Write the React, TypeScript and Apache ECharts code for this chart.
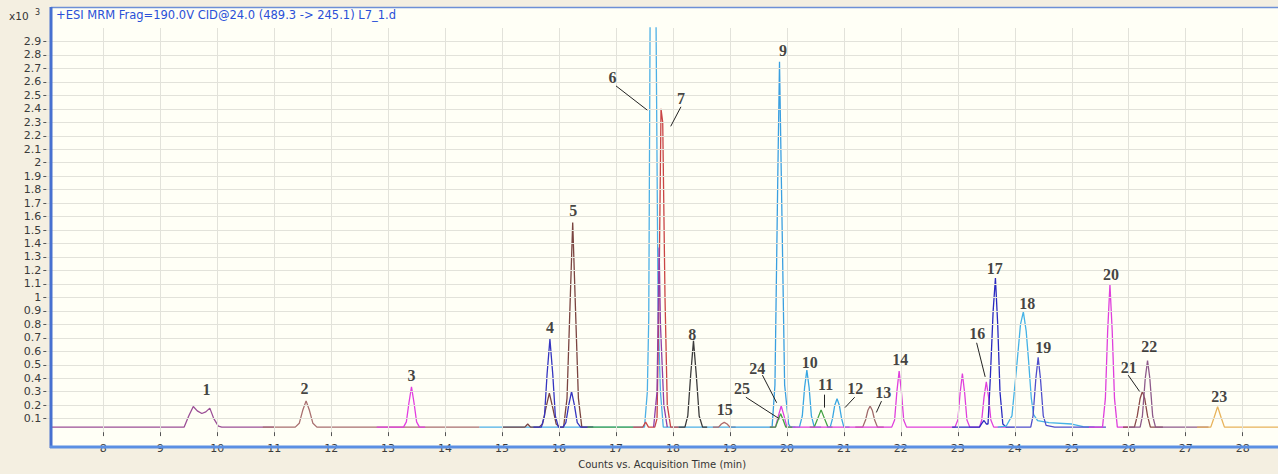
import React, { useEffect, useRef } from "react";
import * as echarts from "echarts";

// ---- axis ticks ----
const xTicks = [8, 9, 10, 11, 12, 13, 14, 15, 16, 17, 18, 19, 20, 21, 22, 23, 24, 25, 26, 27, 28];
const yTicks = [0.1, 0.2, 0.3, 0.4, 0.5, 0.6, 0.7, 0.8, 0.9, 1, 1.1, 1.2, 1.3, 1.4, 1.5, 1.6, 1.7, 1.8, 1.9, 2, 2.1, 2.2, 2.3, 2.4, 2.5, 2.6, 2.7, 2.8, 2.9];

const headerText = "+ESI MRM Frag=190.0V CID@24.0 (489.3 -> 245.1) L7_1.d";
const xTitle = "Counts vs. Acquisition Time (min)";

// ---- traces: [time (min), counts x10^3] ----
const trace1 = [[7.1, 0.037], [9.42, 0.037], [9.5, 0.12], [9.58, 0.19], [9.65, 0.158], [9.73, 0.138], [9.8, 0.15], [9.87, 0.178], [9.94, 0.1], [10.02, 0.045], [10.08, 0.037], [11.0, 0.037]];
const trace2 = [[10.8, 0.037], [11.37, 0.037], [11.44, 0.065], [11.5, 0.16], [11.56, 0.232], [11.62, 0.16], [11.68, 0.065], [11.75, 0.037], [14.6, 0.037]];
const trace3 = [[12.8, 0.037], [13.27, 0.037], [13.32, 0.076], [13.365, 0.216], [13.41, 0.335], [13.455, 0.216], [13.5, 0.076], [13.55, 0.037], [13.65, 0.037]];
const trace6 = [[14.6, 0.037], [17.5, 0.037], [17.55, 0.3], [17.575, 0.85], [17.6, 3.2], [17.65, 6.0], [17.7, 3.2], [17.74, 0.85], [17.78, 0.3], [17.83, 0.037], [19.0, 0.037]];
const trace5 = [[15.0, 0.037], [15.4, 0.037], [15.45, 0.06], [15.5, 0.037], [15.65, 0.037], [15.71, 0.06], [15.77, 0.18], [15.83, 0.29], [15.89, 0.18], [15.95, 0.06], [16.01, 0.037], [16.08, 0.037], [16.14, 0.25], [16.19, 0.9], [16.24, 1.556], [16.29, 0.9], [16.34, 0.25], [16.4, 0.037], [16.6, 0.037]];
const trace4 = [[15.55, 0.037], [15.69, 0.037], [15.745, 0.12], [15.79, 0.43], [15.84, 0.69], [15.89, 0.43], [15.935, 0.12], [15.99, 0.037], [16.07, 0.037], [16.12, 0.07], [16.17, 0.2], [16.22, 0.3], [16.27, 0.2], [16.32, 0.07], [16.38, 0.037], [16.6, 0.037]];
const traceGreenBase = [[16.5, 0.037], [17.3, 0.037]];
const trace7 = [[17.3, 0.037], [17.47, 0.037], [17.52, 0.075], [17.57, 0.037], [17.68, 0.037], [17.72, 0.1], [17.755, 1.0], [17.79, 2.4], [17.82, 2.3], [17.86, 1.0], [17.9, 0.2], [17.96, 0.037], [18.1, 0.037]];
const trace7b = [[17.66, 0.037], [17.72, 0.3], [17.757, 1.37], [17.78, 0.8], [17.84, 0.2], [17.9, 0.037]];
const trace8 = [[18.1, 0.037], [18.21, 0.037], [18.26, 0.12], [18.31, 0.42], [18.36, 0.677], [18.41, 0.42], [18.46, 0.12], [18.52, 0.037], [18.6, 0.037]];
const trace15 = [[18.7, 0.037], [18.8, 0.037], [18.85, 0.06], [18.9, 0.072], [18.95, 0.06], [19.0, 0.037], [19.1, 0.037]];
const trace9 = [[19.0, 0.037], [19.74, 0.037], [19.79, 0.35], [19.84, 1.9], [19.87, 2.75], [19.9, 1.94], [19.96, 0.35], [20.03, 0.06], [20.06, 0.037], [20.15, 0.037]];
const trace24 = [[19.7, 0.037], [19.8, 0.037], [19.85, 0.12], [19.9, 0.194], [19.95, 0.12], [20.0, 0.037], [20.1, 0.037]];
const trace25 = [[19.7, 0.037], [19.8, 0.037], [19.845, 0.09], [19.89, 0.136], [19.935, 0.09], [19.98, 0.037], [20.1, 0.037]];
const trace10 = [[20.1, 0.037], [20.22, 0.037], [20.27, 0.12], [20.31, 0.33], [20.35, 0.46], [20.39, 0.33], [20.43, 0.12], [20.48, 0.037], [20.6, 0.037]];
const trace11 = [[20.4, 0.037], [20.48, 0.037], [20.54, 0.1], [20.6, 0.165], [20.66, 0.1], [20.72, 0.037], [20.8, 0.037]];
const trace12 = [[20.7, 0.037], [20.76, 0.037], [20.8, 0.1], [20.84, 0.2], [20.88, 0.247], [20.92, 0.2], [20.96, 0.1], [21.0, 0.037], [21.1, 0.037]];
const trace13 = [[21.2, 0.037], [21.33, 0.037], [21.38, 0.09], [21.42, 0.16], [21.46, 0.194], [21.5, 0.16], [21.54, 0.09], [21.59, 0.037], [21.7, 0.037]];
const trace14 = [[20.1, 0.037], [21.84, 0.037], [21.89, 0.09], [21.93, 0.3], [21.97, 0.454], [22.01, 0.3], [22.05, 0.09], [22.1, 0.037], [22.95, 0.037], [23.0, 0.09], [23.04, 0.29], [23.08, 0.434], [23.12, 0.29], [23.16, 0.09], [23.21, 0.037], [23.38, 0.037], [23.42, 0.09], [23.46, 0.26], [23.5, 0.374], [23.54, 0.26], [23.58, 0.09], [23.63, 0.037], [23.85, 0.037]];
const trace17 = [[22.9, 0.037], [23.38, 0.037], [23.43, 0.07], [23.46, 0.086], [23.5, 0.06], [23.53, 0.06], [23.57, 0.4], [23.62, 0.9], [23.66, 1.144], [23.7, 0.8], [23.74, 0.3], [23.79, 0.06], [23.85, 0.037], [24.0, 0.037]];
const trace18 = [[23.7, 0.037], [23.85, 0.045], [23.95, 0.12], [24.03, 0.47], [24.1, 0.8], [24.15, 0.892], [24.2, 0.75], [24.24, 0.54], [24.29, 0.25], [24.33, 0.13], [24.4, 0.085], [24.6, 0.07], [25.0, 0.06], [25.2, 0.04], [25.4, 0.037]];
const trace19 = [[24.0, 0.037], [24.28, 0.037], [24.32, 0.12], [24.37, 0.4], [24.41, 0.555], [24.45, 0.4], [24.5, 0.12], [24.55, 0.05], [24.7, 0.037], [25.6, 0.037]];
const trace20 = [[25.3, 0.037], [25.54, 0.037], [25.59, 0.25], [25.63, 0.75], [25.67, 1.096], [25.71, 0.75], [25.75, 0.25], [25.8, 0.037], [26.0, 0.037]];
const trace21 = [[25.9, 0.037], [26.1, 0.037], [26.15, 0.12], [26.2, 0.25], [26.24, 0.302], [26.28, 0.25], [26.33, 0.12], [26.38, 0.037], [26.6, 0.037]];
const trace22 = [[26.0, 0.037], [26.2, 0.037], [26.24, 0.12], [26.29, 0.4], [26.33, 0.531], [26.37, 0.4], [26.42, 0.12], [26.47, 0.037], [27.4, 0.037]];
const trace23 = [[27.2, 0.037], [27.44, 0.037], [27.5, 0.11], [27.56, 0.189], [27.62, 0.11], [27.68, 0.037], [28.62, 0.037]];

// ---- peak labels: [time, value, text] ----
const peakLabels = [
  [9.81, 0.314, "1"], [11.53, 0.322, "2"], [13.41, 0.423, "3"], [15.84, 0.778, "4"], [16.25, 1.644, "5"],
  [16.94, 2.633, "6"], [18.14, 2.48, "7"], [18.34, 0.723, "8"], [19.93, 2.833, "9"], [20.4, 0.519, "10"],
  [20.68, 0.355, "11"], [21.2, 0.326, "12"], [21.69, 0.297, "13"], [21.99, 0.538, "14"], [18.91, 0.17, "15"],
  [23.34, 0.73, "16"], [23.65, 1.216, "17"], [24.22, 0.952, "18"], [24.5, 0.627, "19"], [25.69, 1.173, "20"],
  [26.0, 0.483, "21"], [26.36, 0.639, "22"], [27.59, 0.261, "23"], [19.48, 0.475, "24"], [19.21, 0.326, "25"],
];

// ---- leader lines: [[t1, v1], [t2, v2]] ----
const leaders = [
  [[17.0, 2.57], [17.55, 2.39]],
  [[18.14, 2.415], [17.96, 2.27]],
  [[19.57, 0.423], [19.82, 0.218]],
  [[19.28, 0.259], [19.87, 0.098]],
  [[20.66, 0.278], [20.66, 0.182]],
  [[21.19, 0.259], [21.02, 0.182]],
  [[21.66, 0.23], [21.57, 0.146]],
  [[23.33, 0.663], [23.48, 0.41]],
  [[25.99, 0.423], [26.19, 0.302]],
];

const traces: [number[][], string][] = [
  [trace6, "#4db0e6"],
  [trace1, "#9b4f96"],
  [trace2, "#a86f6f"],
  [trace3, "#e23ee0"],
  [trace5, "#7a4440"],
  [trace4, "#3535c0"],
  [traceGreenBase, "#4caa4c"],
  [trace7, "#c94545"],
  [trace7b, "#8e3fa8"],
  [trace8, "#3a3a3a"],
  [trace15, "#b06a6a"],
  [trace9, "#3a9fe0"],
  [trace24, "#e040e0"],
  [trace25, "#40a040"],
  [trace10, "#3aa7e2"],
  [trace11, "#40a040"],
  [trace12, "#3aa7e2"],
  [trace13, "#a06a6a"],
  [trace14, "#df3fdc"],
  [trace17, "#2a2ac0"],
  [trace18, "#45b2e6"],
  [trace19, "#4f4ecb"],
  [trace20, "#df3fdc"],
  [trace21, "#8a4a4a"],
  [trace22, "#8d5a8a"],
  [trace23, "#e8b35a"],
];

export default function App() {
  const ref = useRef<HTMLDivElement>(null);
  useEffect(() => {
    if (!ref.current) return;
    const chart = echarts.init(ref.current, null, { renderer: "svg" });
    const font = "DejaVu Sans";
    const series: any[] = [];
    series.push({
      type: "line",
      data: [[7.1, 0.037]],
      symbol: "none",
      lineStyle: { opacity: 0 },
      silent: true,
      z: 1,
      markLine: {
        silent: true,
        symbol: ["none", "none"],
        label: { show: false },
        lineStyle: { color: "#e2e2da", width: 1, type: "solid" },
        data: [
          ...xTicks.map((v) => ({ xAxis: v })),
          ...yTicks.map((v) => ({ yAxis: v })),
        ],
      },
    });
    traces.forEach(([d, c]) => {
      series.push({
        type: "line",
        data: d,
        symbol: "none",
        clip: true,
        lineStyle: { color: c, width: 1.3 },
        itemStyle: { color: c },
        silent: true,
      });
    });
    series.push({
      type: "scatter",
      data: peakLabels.map((p) => ({ value: [p[0], p[1]], name: p[2] })),
      symbol: "circle",
      symbolSize: 1,
      itemStyle: { color: "rgba(0,0,0,0)" },
      silent: true,
      z: 5,
      label: {
        show: true,
        position: "inside",
        formatter: "{b}",
        color: "#111",
        fontFamily: "Liberation Serif",
        fontSize: 16,
        fontWeight: "bold",
      },
      markLine: {
        silent: true,
        symbol: ["none", "none"],
        label: { show: false },
        lineStyle: { color: "#222", width: 1, type: "solid" },
        data: leaders.map(([a, b]) => [{ coord: a }, { coord: b }]),
      },
    });

    chart.setOption({
      animation: false,
      backgroundColor: "#f4efe1",
      grid: { left: 46.3, right: 0, top: 28, bottom: 31.9, containLabel: false },
      xAxis: {
        type: "value",
        min: 7,
        max: 28.62,
        interval: 1,
        offset: 5,
        axisLine: { show: false },
        axisTick: { show: true, length: 4, customValues: xTicks, lineStyle: { color: "#555" } },
        axisLabel: {
          customValues: xTicks,
          formatter: (v: number) => (Number.isInteger(v) && v >= 8 && v <= 28 ? String(v) : ""),
          fontFamily: font,
          fontSize: 11,
          color: "#3a3a3a",
          margin: 6,
        },
        splitLine: { show: false },
        name: xTitle,
        nameLocation: "middle",
        nameGap: 18,
        nameTextStyle: { fontFamily: font, fontSize: 10, color: "#333" },
      },
      yAxis: {
        type: "value",
        min: 0,
        max: 3,
        interval: 0.1,
        offset: -5,
        axisLine: { show: false },
        axisTick: { show: true, length: 8, customValues: yTicks, lineStyle: { color: "#555" } },
        axisLabel: {
          customValues: yTicks,
          formatter: (v: number) => (v > 0.05 && v < 2.95 ? String(Math.round(v * 10) / 10) : ""),
          fontFamily: font,
          fontSize: 11,
          color: "#3a3a3a",
          margin: 10,
        },
        splitLine: { show: false },
      },
      graphic: [
        { type: "rect", z: -10, shape: { x: 52, y: 8, width: 1226, height: 439 }, style: { fill: "#fffff6" }, silent: true },
        { type: "line", z: 100, shape: { x1: 51, y1: 7.5, x2: 1278, y2: 7.5 }, style: { stroke: "#6d8fd6", lineWidth: 1.5 }, silent: true },
        { type: "line", z: 100, shape: { x1: 51, y1: 7, x2: 51, y2: 448 }, style: { stroke: "#4670d0", lineWidth: 3 }, silent: true },
        { type: "line", z: 100, shape: { x1: 50, y1: 447, x2: 1278, y2: 447 }, style: { stroke: "#5b8fe3", lineWidth: 3 }, silent: true },
        { type: "text", z: 100, x: 56, y: 15, style: { text: headerText, fontFamily: font, fontSize: 11.5, fill: "#2a50d8", verticalAlign: "middle" }, silent: true },
        { type: "text", z: 100, x: 9, y: 16, style: { text: "x10", fontFamily: font, fontSize: 10.5, fill: "#333", verticalAlign: "middle" }, silent: true },
        { type: "text", z: 100, x: 35, y: 12, style: { text: "3", fontFamily: font, fontSize: 8, fill: "#333", verticalAlign: "middle" }, silent: true },
      ],
      series,
    });
    return () => chart.dispose();
  }, []);
  return (
    <div
      ref={ref}
      style={{ position: "fixed", left: 0, top: 0, width: 1278, height: 474 }}
    />
  );
}
